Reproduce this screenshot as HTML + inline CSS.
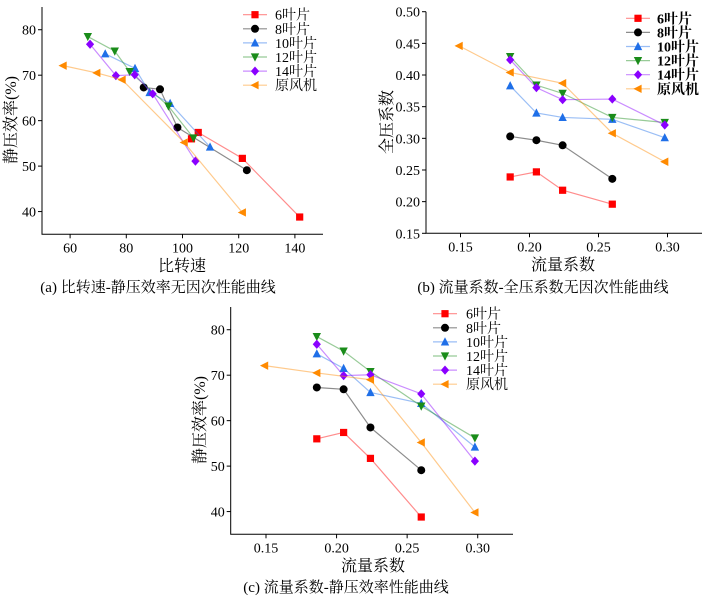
<!DOCTYPE html>
<html><head><meta charset="utf-8"><style>
body{margin:0;background:#fff}
svg{display:block;font-family:"Liberation Serif","Noto Serif CJK SC",serif}
</style></head><body>
<svg id="s" width="705" height="597" xmlns="http://www.w3.org/2000/svg"></svg>
<script>
const seriesNames=["6叶片","8叶片","10叶片","12叶片","14叶片","原风机"];
const colors=["#ff0000","#000000","#1f6fe8","#1a8c1a","#8a00ff","#ff8a00"];
const markers=["square","circle","up","down","diamond","left"];
// panel a: specific speed (x) vs static efficiency (y)
const aX=[[103.2,105.6,121.3,141.7],[86.2,92.0,98.2,122.9],[72.5,83.1,88.3,95.6,109.8],[66.3,75.9,81.2,95.0,103.9],[67.1,76.3,83.0,89.4,104.6],[57.5,69.5,78.5,100.6,121.3]];
const effY=[[56.0,57.4,51.7,38.8],[67.3,66.9,58.5,49.1],[74.7,71.5,66.2,63.8,54.2],[78.5,75.3,70.8,63.2,56.2],[76.8,69.9,70.1,65.9,51.1],[72.1,70.5,69.0,55.2,39.8]];
// flow coefficients
const flowX=[[0.186,0.205,0.224,0.260],[0.186,0.205,0.224,0.260],[0.186,0.205,0.224,0.260,0.298],[0.186,0.205,0.224,0.260,0.298],[0.186,0.205,0.224,0.260,0.298],[0.149,0.186,0.224,0.260,0.298]];
const pressY=[[0.239,0.247,0.218,0.196],[0.303,0.297,0.289,0.236],[0.383,0.340,0.333,0.330,0.301],[0.429,0.384,0.371,0.333,0.325],[0.424,0.380,0.361,0.362,0.321],[0.446,0.404,0.387,0.308,0.263]];
const aXTicks=[60,80,100,120,140];
const effTicks=[40,50,60,70,80];
const flowTicks=[0.15,0.20,0.25,0.30];
const pressTicks=[0.15,0.20,0.25,0.30,0.35,0.40,0.45,0.50];

const NS="http://www.w3.org/2000/svg";
const svg=document.getElementById("s");
function el(tag,attrs,parent){const e=document.createElementNS(NS,tag);for(const k in attrs)e.setAttribute(k,attrs[k]);(parent||svg).appendChild(e);return e;}
function txt(s,attrs,parent){const e=el("text",attrs,parent);e.textContent=s;return e;}
function marker(g,type,x,y,c){
  const r=3.6;let m;
  if(type==="square")m=el("rect",{x:x-r,y:y-r,width:2*r,height:2*r,fill:c},g);
  else if(type==="circle")m=el("circle",{cx:x,cy:y,r:r+0.4,fill:c},g);
  else if(type==="up")m=el("polygon",{points:`${x},${y-r-1} ${x-r-0.6},${y+r} ${x+r+0.6},${y+r}`,fill:c},g);
  else if(type==="down")m=el("polygon",{points:`${x},${y+r+1} ${x-r-0.6},${y-r} ${x+r+0.6},${y-r}`,fill:c},g);
  else if(type==="diamond")m=el("polygon",{points:`${x},${y-r-1} ${x+r+0.5},${y} ${x},${y+r+1} ${x-r-0.5},${y}`,fill:c},g);
  else m=el("polygon",{points:`${x-r-1},${y} ${x+r},${y-r-0.6} ${x+r},${y+r+0.6}`,fill:c},g);
  return m;
}
function panel(p){
  const g=el("g",{});
  
  
  const sx=v=>p.L+(v-p.x0)/(p.x1-p.x0)*(p.R-p.L);
  const sy=v=>p.B-(v-p.y0)/(p.y1-p.y0)*(p.B-p.T);
  const ax=el("path",{d:`M${p.L},${p.T}V${p.B}H${p.R}`,stroke:"#000","stroke-width":1,fill:"none"},g);
  
  
  p.xt.forEach(v=>{const x=sx(v);el("line",{x1:x,x2:x,y1:p.B,y2:p.B+4,stroke:"#000"},g);
    const t=txt(p.xf(v),{x:x,y:p.B+18,"font-size":14,"text-anchor":"middle"},g);
    });
  p.yt.forEach(v=>{const y=sy(v);el("line",{x1:p.L-4,x2:p.L,y1:y,y2:y,stroke:"#000"},g);
    const t=txt(p.yf(v),{x:p.L-6,y:y+5,"font-size":14,"text-anchor":"end"},g);
    });
  p.X.forEach((xs,i)=>{
    const sg=el("g",{},g);
    
    
    el("polyline",{points:xs.map((v,j)=>sx(v)+","+sy(p.Y[i][j])).join(" "),fill:"none",stroke:colors[i],"stroke-opacity":0.45,"stroke-width":1.2},sg);
    xs.forEach((v,j)=>{const m=marker(sg,markers[i],sx(v),sy(p.Y[i][j]),colors[i]);
      });
  });
  const lg=el("g",{},g);
  
  
  seriesNames.forEach((n,i)=>{
    const y=p.lg.y+i*14.1;
    const eg=el("g",{},lg);
    
    
    el("line",{x1:p.lg.x,x2:p.lg.x+24,y1:y,y2:y,stroke:colors[i],"stroke-opacity":0.45,"stroke-width":1.2},eg);
    marker(eg,markers[i],p.lg.x+12,y,colors[i]);
    txt(n,{x:p.lg.tx,y:y+5,"font-size":14,"font-weight":p.lg.bold?"bold":"normal"},eg);
  });
  const xt=txt(p.xtitle[0],{x:p.xtitle[1],y:p.xtitle[2],"font-size":16,"text-anchor":"middle"},g);
  
  const yt=txt(p.ytitle[0],{x:0,y:0,"font-size":16,"text-anchor":"middle",transform:`translate(${p.ytitle[1]},${p.ytitle[2]}) rotate(-90)`},g);
  
  const cp=txt(p.cap[0],{x:p.cap[1],y:p.cap[2],"font-size":15,"text-anchor":"middle"},g);
  
}
const f0=v=>String(v), f2=v=>v.toFixed(2);
panel({name:"panel-a",L:42,R:323,T:7,B:234.3,x0:50,x1:150,y0:35,y1:85,X:aX,Y:effY,xt:aXTicks,yt:effTicks,xf:f0,yf:f0,
  lg:{x:243,tx:275,y:14.7},xtitle:["比转速",182,271],ytitle:["静压效率(%)",16,120],cap:["(a)  比转速-静压效率无因次性能曲线",158,292]});
panel({name:"panel-b",L:426,R:702,T:11.7,B:233.3,x0:0.125,x1:0.325,y0:0.15,y1:0.50,X:flowX,Y:pressY,xt:flowTicks,yt:pressTicks,xf:f2,yf:f2,
  lg:{x:626,tx:657,y:18.3,bold:true},xtitle:["流量系数",563,270],ytitle:["全压系数",392,122],cap:["(b)  流量系数-全压系数无因次性能曲线",543,292]});
panel({name:"panel-c",L:230.7,R:513,T:307,B:534.3,x0:0.125,x1:0.325,y0:35,y1:85,X:flowX,Y:effY,xt:flowTicks,yt:effTicks,xf:f2,yf:f0,
  lg:{x:433,tx:466,y:313.7},xtitle:["流量系数",373,571],ytitle:["静压效率(%)",205,420],cap:["(c)  流量系数-静压效率性能曲线",346,592]});
</script>
</body></html>
